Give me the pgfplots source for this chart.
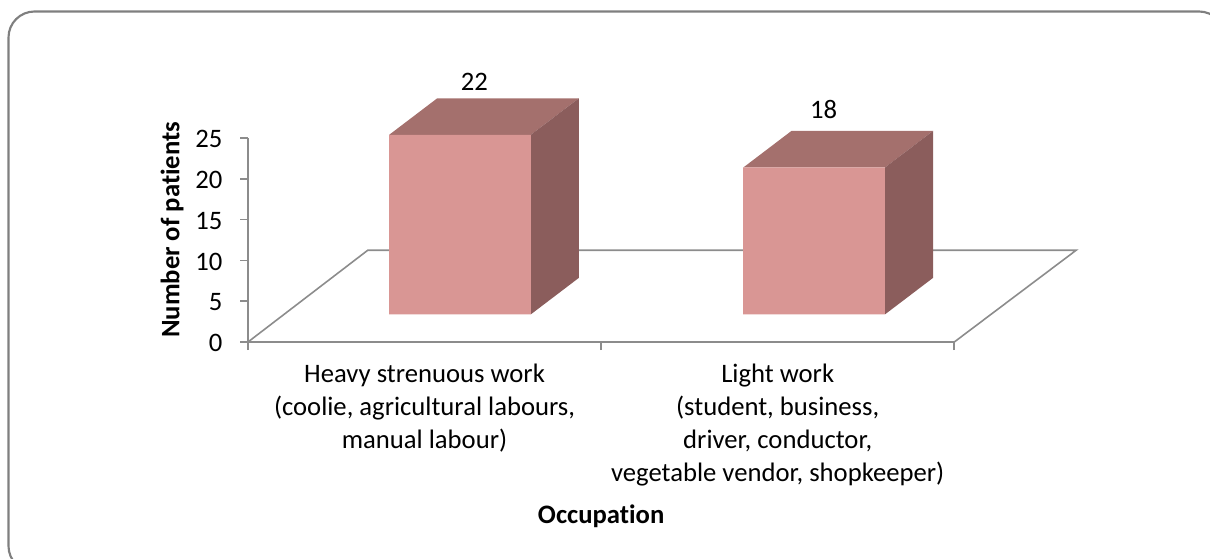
\documentclass[border=0pt]{standalone}
\usepackage{fontspec}
\setmainfont{Carlito}[Ligatures=NoCommon]
\usepackage{pgfplots}
\pgfplotsset{compat=1.18}
\definecolor{axisgray}{HTML}{8C8C8C}
\definecolor{framegray}{HTML}{7F7F7F}
\definecolor{barfront}{HTML}{D99694}
\definecolor{bartop}{HTML}{A4706D}
\definecolor{barside}{HTML}{8B5D5C}
% 1 px of the reference = 0.75pt
\pgfplotstableread{
x    patients
0.6  22
1.603 18
}\patients
\begin{document}
\begin{tikzpicture}[x=0.75pt,y=-0.75pt]
\useasboundingbox (0,0) rectangle (1210,559);
\begin{scope}
\clip (0,0) rectangle (1210,559);
\draw[framegray,line width=1.6pt,rounded corners=19.5pt] (8.5,11.5) rectangle (1225,572);
\end{scope}
% scale and floor
\begin{axis}[
    at={(248*0.75pt,-342*0.75pt)}, anchor=south west,
    scale only axis,
    width=529.7pt, height=153pt,
    xmin=0, xmax=2, ymin=0, ymax=25,
    clip=false,
    axis x line=bottom, axis y line=left,
    axis line style={axisgray,line width=1.2pt,-},
    every tick/.style={axisgray,line width=1.2pt},
    tick align=outside,
    major tick length=6pt,
    xtick={0,1,2}, xticklabels={},
    ytick={0,5,...,25},
    extra x ticks={0.5,1.5},
    extra x tick labels={{Heavy strenuous work\\(coolie, agricultural labours,\\manual labour)},{Light work\\(student, business,\\driver, conductor,\\vegetable vendor, shopkeeper)}},
    extra x tick style={major tick length=0pt},
    xticklabel style={align=center,font=\fontsize{20}{24.75}\selectfont,yshift=-16pt},
    yticklabel style={font=\fontsize{20}{24}\selectfont,xshift=-13pt,yshift=-1pt},
    /pgf/number format/assume math mode=true,
    tick label style={inner sep=0pt},
    ytick pos=left,
    xlabel={\textbf{Occupation}},
    xlabel style={font=\fontsize{20}{24}\selectfont,at={(axis description cs:0.5,0)},anchor=center,yshift=-130.5pt},
    ylabel={\textbf{Number of patients}},
    ylabel style={font=\fontsize{20}{24}\selectfont,at={(axis description cs:0,0.55)},anchor=center,yshift=57pt},
]
\addplot[axisgray,line width=1.2pt] coordinates {(0,0) (0.339,11.24) (2.345,11.24) (2,0)};
\end{axis}
% bars: y=0 is the foot of the front face
\begin{axis}[
    at={(248*0.75pt,-342*0.75pt)}, anchor=south west,
    scale only axis,
    width=529.7pt, height=173.8pt,
    xmin=0, xmax=2, ymin=-3.39, ymax=25,
    clip=false,
    hide axis,
]
\addplot[fill=bartop,draw=none] coordinates {(0.4,22) (0.536,26.47) (0.937,26.47) (0.801,22)} -- cycle;
\addplot[fill=barside,draw=none] coordinates {(0.801,0) (0.937,4.47) (0.937,26.47) (0.801,22)} -- cycle;
\addplot[fill=bartop,draw=none] coordinates {(1.403,18) (1.539,22.47) (1.94,22.47) (1.804,18)} -- cycle;
\addplot[fill=barside,draw=none] coordinates {(1.804,0) (1.94,4.47) (1.94,22.47) (1.804,18)} -- cycle;
\addplot[ybar,bar width=106.3pt,bar shift=0pt,fill=barfront,draw=none] table[x=x,y=patients] {\patients};
\node[font=\fontsize{20}{24}\selectfont] at (axis cs:0.6408,28.5) {22};
\node[font=\fontsize{20}{24}\selectfont] at (axis cs:1.6300,25.1) {18};
\end{axis}
\end{tikzpicture}
\end{document}
